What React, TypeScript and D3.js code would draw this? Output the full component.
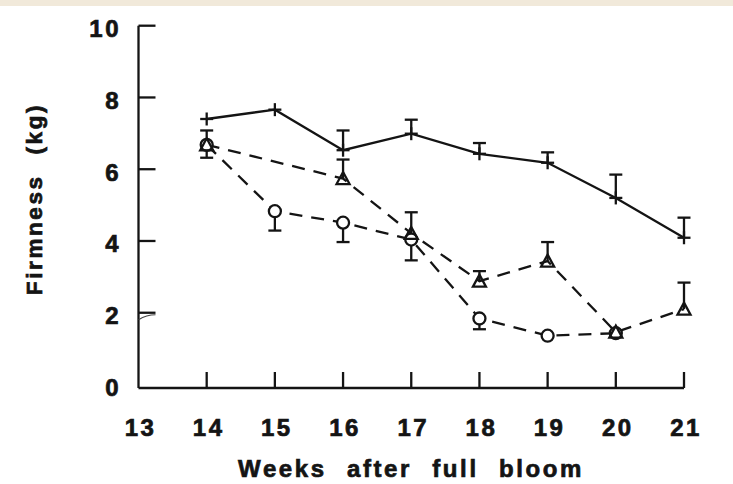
import React from "react";
import * as d3 from "d3";

// Weeks after full bloom
const xTickValues = [13, 14, 15, 16, 17, 18, 19, 20, 21];
const yTickValues = [0, 2, 4, 6, 8, 10];

// Solid line, "+" markers (error bars upward)
const solidWeeks = [14, 15, 16, 17, 18, 19, 20, 21];
const solidFirmness = [7.4, 7.66, 6.53, 6.99, 6.43, 6.18, 5.2, 4.09];
const solidErrUp = [0, 0, 0.55, 0.39, 0.3, 0.29, 0.65, 0.56];

// Dashed line, triangle markers (error bars upward)
const triWeeks = [14, 16, 17, 18, 19, 20, 21];
const triFirmness = [6.68, 5.74, 4.21, 2.88, 3.44, 1.46, 2.1];
const triErrUp = [0.4, 0.53, 0.59, 0.28, 0.53, 0, 0.74];

// Dashed line, circle markers (error bars downward)
const circWeeks = [14, 15, 16, 17, 18, 19, 20];
const circFirmness = [6.68, 4.83, 4.51, 4.04, 1.84, 1.36, 1.43];
const circErrDown = [0.36, 0.54, 0.54, 0.58, 0.3, 0, 0];

const W = 733;
const H = 484;
const INK = "#141414";
const FONT = "'Liberation Sans', Arial, Helvetica, sans-serif";
const SW = 2.3;

export default function App() {
  const x = d3.scaleLinear().domain([13, 21]).range([138.5, 684]);
  const y = d3.scaleLinear().domain([0, 10]).range([384.5, 25.7]);
  const axisY = 388;
  const line = d3
    .line<[number, number]>()
    .x((d) => x(d[0]))
    .y((d) => y(d[1]));

  const solidPts = solidWeeks.map((w, i) => [w, solidFirmness[i]] as [number, number]);
  const triPts = triWeeks.map((w, i) => [w, triFirmness[i]] as [number, number]);
  const circPts = circWeeks.map((w, i) => [w, circFirmness[i]] as [number, number]);

  const cap = 6.5;
  const errBar = (wk: number, v: number, e: number, dir: number, key: string) => {
    if (e <= 0) return null;
    const cx = x(wk);
    const y0 = y(v);
    const y1 = y(v + dir * e);
    return (
      <g key={key}>
        <line x1={cx} x2={cx} y1={y0} y2={y1} stroke={INK} strokeWidth={SW} />
        <line x1={cx - cap} x2={cx + cap} y1={y1} y2={y1} stroke={INK} strokeWidth={SW} />
      </g>
    );
  };

  const triPath = (cx: number, cy: number) => {
    const s = 6.5;
    return `M${cx},${cy - s} L${cx + s},${cy + s * 0.85} L${cx - s},${cy + s * 0.85} Z`;
  };

  const textStyle = {
    fontFamily: FONT,
    fontWeight: "bold" as const,
    fill: INK,
    stroke: INK,
    strokeWidth: 0.7,
  };

  return (
    <svg
      width={W}
      height={H}
      style={{ position: "fixed", left: 0, top: 0, background: "#fff" }}
    >
      <rect x={0} y={0} width={W} height={H} fill="#fff" />
      <rect x={0} y={0} width={W} height={6} fill="#f1e9da" />

      {/* Y axis */}
      <line x1={x(13)} x2={x(13)} y1={y(10)} y2={axisY} stroke={INK} strokeWidth={SW} />
      {yTickValues
        .filter((v) => v > 0)
        .map((v) => (
          <line
            key={"yt" + v}
            x1={x(13)}
            x2={x(13) + 17}
            y1={y(v)}
            y2={y(v)}
            stroke={INK}
            strokeWidth={SW}
          />
        ))}
      <path
        d={`M${x(13)},${y(2) + 7} Q${x(13) + 8},${y(2) + 2} ${x(13) + 17},${y(2) + 2}`}
        fill="none"
        stroke="#444"
        strokeWidth={1.2}
      />
      {yTickValues.map((v) => (
        <text
          key={"yl" + v}
          x={121}
          y={y(v) + 5}
          textAnchor="end"
          dominantBaseline="middle"
          fontSize={24}
          letterSpacing={2.5}
          {...textStyle}
        >
          {v}
        </text>
      ))}

      {/* X axis */}
      <line x1={x(13)} x2={x(21)} y1={axisY} y2={axisY} stroke={INK} strokeWidth={SW} />
      {xTickValues
        .filter((v) => v > 13)
        .map((v) => (
          <line
            key={"xt" + v}
            x1={x(v)}
            x2={x(v)}
            y1={axisY}
            y2={axisY - 16}
            stroke={INK}
            strokeWidth={SW}
          />
        ))}
      {xTickValues.map((v) => (
        <text
          key={"xl" + v}
          x={x(v) + 2}
          y={436}
          textAnchor="middle"
          fontSize={24}
          letterSpacing={2.5}
          {...textStyle}
        >
          {v}
        </text>
      ))}

      {/* Axis titles */}
      <text
        x={411}
        y={477}
        textAnchor="middle"
        fontSize={24}
        letterSpacing={2.6}
        wordSpacing={11}
        {...textStyle}
      >
        Weeks after full bloom
      </text>
      <text
        transform={`translate(42,199) rotate(-90)`}
        textAnchor="middle"
        fontSize={22.5}
        letterSpacing={2.6}
        wordSpacing={11}
        {...textStyle}
      >
        Firmness (kg)
      </text>

      {/* Error bars */}
      {solidWeeks.map((w, i) => errBar(w, solidFirmness[i], solidErrUp[i], 1, "se" + i))}
      {triWeeks.map((w, i) => errBar(w, triFirmness[i], triErrUp[i], 1, "te" + i))}
      {circWeeks.map((w, i) => errBar(w, circFirmness[i], circErrDown[i], -1, "ce" + i))}

      {/* Lines */}
      <path d={line(triPts) || ""} fill="none" stroke={INK} strokeWidth={SW} strokeDasharray="13,9" />
      <path d={line(circPts) || ""} fill="none" stroke={INK} strokeWidth={SW} strokeDasharray="13,9" />
      <path d={line(solidPts) || ""} fill="none" stroke={INK} strokeWidth={SW} />

      {/* Markers */}
      {solidPts.map((p, i) => (
        <g key={"sp" + i}>
          <line x1={x(p[0]) - 6.5} x2={x(p[0]) + 6.5} y1={y(p[1])} y2={y(p[1])} stroke={INK} strokeWidth={SW} />
          <line x1={x(p[0])} x2={x(p[0])} y1={y(p[1]) - 6.5} y2={y(p[1]) + 6.5} stroke={INK} strokeWidth={SW} />
        </g>
      ))}
      {circPts.map((p, i) => (
        <circle key={"cp" + i} cx={x(p[0])} cy={y(p[1])} r={6} fill="#fff" stroke={INK} strokeWidth={SW} />
      ))}
      {triPts.map((p, i) => (
        <path key={"tp" + i} d={triPath(x(p[0]), y(p[1]))} fill="none" stroke={INK} strokeWidth={SW} />
      ))}
    </svg>
  );
}
